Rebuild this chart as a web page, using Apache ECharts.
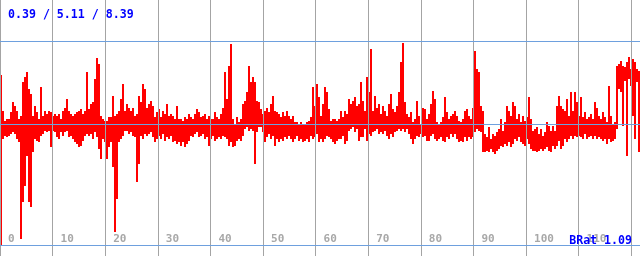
<!DOCTYPE html>
<html lang="en">
<head>
    <meta charset="UTF-8">
    <title>BRat</title>
    <script src="https://cdn.jsdelivr.net/npm/echarts@6/dist/echarts.min.js"></script>
</head>
<body style="margin:0">
<div id="chart" style="width: 640px;height: 256px;"></div>
</body>
<script>
    // samples are 0.38 units apart, each one a low..high range around the 0 line
    var STEP = 0.38;
    var xTicks = [0, 10, 20, 30, 40, 50, 60, 70, 80, 90, 100, 110, 120];
    var statsText = '0.39 / 5.11 / 8.39';
    var bratText = 'BRat 1.09';
    var refLines = [83, 0, -121];

    var high = [
        50, 14, 4, 6, 6, 13, 23, 19, 14, 6, 9, 43, 48, 53, 36, 31, 9, 19, 13, 6,
        38, 9, 14, 11, 14, 13, 9, 11, 9, 11, 6, 14, 17, 26, 14, 11, 9, 11, 13, 14,
        16, 11, 14, 53, 16, 21, 23, 46, 67, 61, 9, 6, 4, 4, 8, 8, 29, 9, 11, 14,
        26, 41, 14, 21, 17, 14, 17, 9, 11, 29, 23, 41, 36, 17, 21, 24, 19, 8, 13, 16,
        8, 14, 11, 21, 9, 11, 9, 6, 19, 6, 6, 4, 8, 6, 11, 8, 6, 11, 16, 13,
        8, 9, 11, 6, 9, 6, 6, 13, 8, 6, 11, 17, 53, 26, 59, 81, 6, 1, 8, 3,
        6, 21, 24, 33, 59, 43, 48, 43, 24, 23, 16, 11, 14, 17, 13, 21, 29, 14, 13, 11,
        8, 13, 9, 14, 9, 6, 9, 3, 3, 1, 3, 1, 0, 3, 4, 8, 38, 19, 41, 28,
        9, 21, 38, 33, 16, 4, 6, 6, 4, 6, 14, 8, 14, 11, 26, 21, 24, 28, 19, 21,
        43, 24, 14, 48, 33, 76, 14, 29, 17, 21, 11, 19, 14, 9, 21, 31, 16, 13, 19, 33,
        63, 82, 23, 11, 8, 13, 3, 6, 24, 9, 1, 17, 16, 6, 11, 21, 34, 26, 3, 1,
        3, 8, 28, 13, 6, 9, 11, 14, 9, 4, 3, 6, 14, 16, 9, 6, 17, 74, 56, 53,
        19, 14, -9, -12, -2, -14, -9, -11, -7, -4, 6, -6, 3, 19, 14, 9, 23, 19, 6, 11,
        3, 9, 4, 8, 28, 6, -6, -4, -2, -9, -4, -11, -7, 3, -1, -6, -1, -6, 19, 29,
        19, 16, 14, 26, 9, 33, 14, 33, 23, 9, 28, 8, 13, 6, 8, 11, 6, 23, 17, 9,
        6, 13, 8, 3, 39, 9, 1, 3, 59, 61, 64, 59, 58, 63, 68, 56, 66, 63, 56, 54
    ];
    var low = [
        -120, -14, -11, -12, -11, -9, -7, -9, -14, -17, -114, -77, -61, -31, -77, -82, -27, -14, -16, -17,
        -11, -9, -6, -7, -6, -22, -6, -7, -12, -14, -7, -11, -7, -6, -12, -11, -14, -17, -19, -22,
        -21, -16, -11, -9, -11, -9, -14, -7, -12, -24, -34, -14, -17, -34, -22, -17, -42, -107, -74, -17,
        -14, -11, -6, -6, -9, -7, -11, -12, -57, -39, -11, -14, -9, -11, -9, -7, -12, -17, -14, -11,
        -14, -9, -16, -12, -14, -11, -17, -16, -19, -17, -21, -17, -22, -19, -16, -11, -12, -9, -7, -12,
        -11, -9, -14, -12, -21, -14, -11, -16, -14, -12, -14, -11, -12, -14, -21, -17, -22, -21, -16, -14,
        -16, -11, -4, -2, -6, -4, -6, -39, -7, -2, -2, -7, -17, -12, -9, -14, -11, -21, -14, -17,
        -14, -16, -12, -14, -11, -14, -17, -14, -11, -16, -14, -17, -16, -14, -17, -11, -14, -12, -9, -17,
        -14, -17, -14, -11, -12, -14, -17, -19, -16, -14, -14, -11, -19, -16, -6, -4, -2, -7, -4, -16,
        -12, -12, -4, -16, -9, -11, -7, -6, -4, -9, -7, -9, -6, -11, -14, -9, -12, -7, -6, -4,
        -6, -4, -7, -4, -9, -14, -19, -14, -11, -12, -9, -12, -11, -16, -16, -11, -9, -14, -16, -14,
        -12, -16, -17, -12, -14, -9, -12, -9, -14, -17, -16, -17, -12, -16, -12, -14, -12, -7, -4, -6,
        -7, -27, -27, -26, -27, -24, -27, -29, -26, -24, -21, -22, -19, -21, -17, -22, -19, -14, -16, -12,
        -17, -19, -21, -14, -19, -24, -26, -26, -27, -26, -24, -26, -24, -22, -26, -27, -21, -24, -21, -16,
        -24, -21, -14, -17, -14, -11, -14, -11, -12, -11, -12, -14, -9, -14, -12, -11, -14, -11, -14, -12,
        -14, -16, -14, -19, -14, -17, -16, -14, -4, 36, 33, -1, 44, -31, 46, 39, 9, -14, 43, -27
    ];

    var rangeData = high.map(function (v, i) { return [i * STEP, low[i], v]; });

    function renderRange(params, api) {
        var x = api.value(0);
        var top = api.coord([x, api.value(2)]);
        var bottom = api.coord([x, api.value(1)]);
        var right = api.coord([x + STEP, api.value(1)]);
        var x0 = Math.round(top[0]);
        var y0 = Math.round(top[1]);
        return {
            type: 'rect',
            shape: {
                x: x0,
                y: y0,
                width: Math.round(right[0]) - x0,
                height: Math.max(1, Math.round(bottom[1]) - y0)
            },
            style: {fill: '#ff0000'}
        };
    }

    var chart = echarts.init(document.getElementById('chart'));
    var option = {
        backgroundColor: '#ffffff',
        animation: false,
        title: [{
            text: statsText,
            left: 8, top: 9, padding: 0,
            textStyle: {color: '#0000ff', fontFamily: 'DejaVu Sans Mono', fontWeight: 'bold', fontSize: 11.6}
        }, {
            text: bratText,
            right: 8, top: 235, padding: 0,
            textStyle: {color: '#0000ff', fontFamily: 'DejaVu Sans Mono', fontWeight: 'bold', fontSize: 11.6}
        }],
        grid: {left: 0, right: 0, top: 0, bottom: 0, containLabel: false, outerBoundsMode: 'none'},
        xAxis: {
            type: 'value',
            min: 0,
            max: 121.67,
            interval: 10,
            z: 3,
            axisLine: {show: false},
            axisTick: {show: false},
            splitLine: {show: true, lineStyle: {color: '#a4a4a4', width: 1}},
            axisLabel: {
                inside: true,
                margin: 11,
                align: 'left',
                verticalAlign: 'bottom',
                padding: [0, 0, 0, 8],
                showMaxLabel: false,
                color: '#a8a8a8',
                fontFamily: 'DejaVu Sans Mono',
                fontWeight: 'bold',
                fontSize: 11,
                formatter: function (v) { return xTicks.indexOf(v) >= 0 ? String(v) : ''; }
            }
        },
        yAxis: {
            type: 'value',
            min: -131.5,
            max: 124.5,
            show: false
        },
        series: [{
            name: 'range',
            type: 'custom',
            renderItem: renderRange,
            encode: {x: 0, y: [1, 2]},
            data: rangeData,
            markLine: {
                silent: true,
                symbol: 'none',
                label: {show: false},
                lineStyle: {color: '#6ea0de', width: 1, type: 'solid'},
                data: refLines.map(function (v) { return {yAxis: v}; })
            }
        }]
    };
    chart.setOption(option);
</script>
</html>
